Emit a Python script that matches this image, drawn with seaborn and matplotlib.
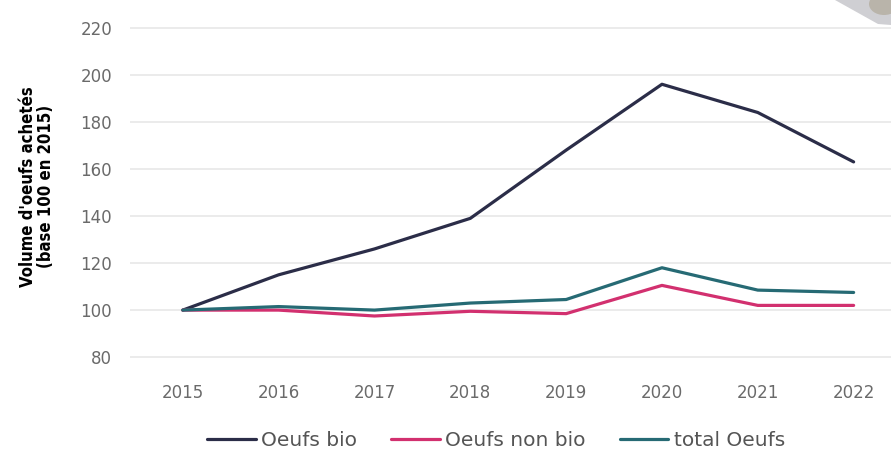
import pandas as pd
import numpy as np
import matplotlib
matplotlib.use("Agg")
import matplotlib.pyplot as plt
import matplotlib.patches as mpatches
import seaborn as sns

years = [2015, 2016, 2017, 2018, 2019, 2020, 2021, 2022]
oeufs_bio = [100, 115, 126, 139, 168, 196, 184, 163]
oeufs_non_bio = [100, 100, 97.5, 99.5, 98.5, 110.5, 102, 102]
total_oeufs = [100, 101.5, 100, 103, 104.5, 118, 108.5, 107.5]
series_names = ["Oeufs bio", "Oeufs non bio", "total Oeufs"]
y_ticks = [80, 100, 120, 140, 160, 180, 200, 220]

df = pd.DataFrame({
    "annee": years * 3,
    "volume": oeufs_bio + oeufs_non_bio + total_oeufs,
    "serie": [s for s in series_names for _ in years],
})

palette = {"Oeufs bio": "#2b2d48", "Oeufs non bio": "#d2306f", "total Oeufs": "#266a74"}

sns.set_style("white")
plt.rcParams["font.family"] = ["DejaVu Sans"]

fig = plt.figure(figsize=(8.91, 4.53), dpi=100)
ax = fig.add_axes([0.146, 0.196, 0.854, 0.753])

sns.lineplot(data=df, x="annee", y="volume", hue="serie", palette=palette,
             linewidth=2.3, ax=ax, legend=True)

ax.set_xlim(2014.45, 2022.39)
ax.set_ylim(77, 222)
ax.set_yticks(y_ticks)
ax.set_xticks(years)
ax.grid(axis="y", color="#e8e8e8", linewidth=1.2)
ax.set_axisbelow(True)
for s in ax.spines.values():
    s.set_visible(False)
ax.tick_params(axis="both", length=0, labelsize=12, labelcolor="#6a6a6a")
ax.tick_params(axis="y", pad=13)
ax.tick_params(axis="x", pad=14)
ax.set_xlabel("")
ax.set_ylabel("Volume d'oeufs achetés\n(base 100 en 2015)",
              fontsize=12, fontweight="bold", color="black",
              fontstretch="condensed", linespacing=1.0)
ax.yaxis.set_label_coords(-0.099, 0.52)

handles, labels = ax.get_legend_handles_labels()
ax.legend(handles, labels, loc="upper center", bbox_to_anchor=(0.481, -0.142),
          ncol=3, frameon=False, fontsize=14.5, handlelength=2.4,
          handletextpad=0.27, columnspacing=1.7, labelcolor="#555555")

# grey corner shape at top right of the source image
W, H = 891, 453
corner = [(835, 0), (891, 0), (891, 25), (878, 24)]
fig.patches.append(mpatches.Polygon([(x / W, 1 - y / H) for x, y in corner],
                                    closed=True, transform=fig.transFigure,
                                    facecolor="#cfcfd3", edgecolor="none"))
fig.patches.append(mpatches.Ellipse((884 / W, 1 - 4 / H), 30 / W, 22 / H,
                                    transform=fig.transFigure,
                                    facecolor="#b9b4aa", edgecolor="none"))

fig.savefig("out.png", dpi=100)
